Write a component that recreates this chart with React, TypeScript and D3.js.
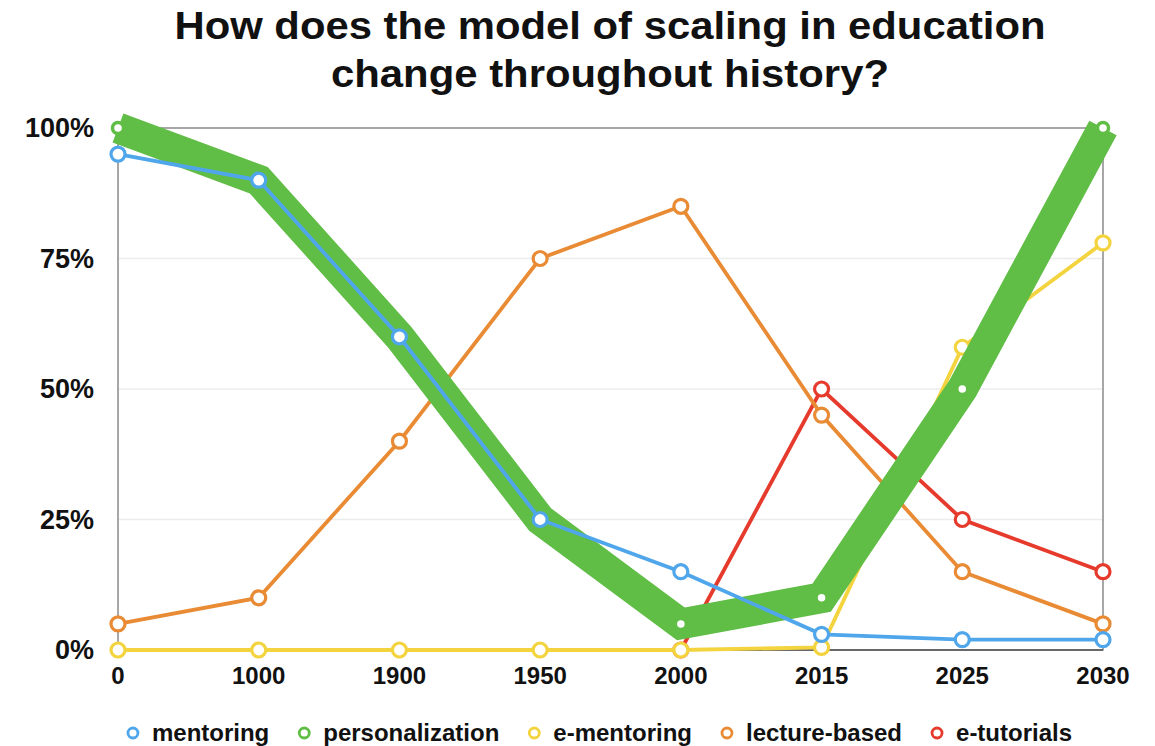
import React, { useEffect, useRef } from "react";
import * as d3 from "d3";

const categories = ["0", "1000", "1900", "1950", "2000", "2015", "2025", "2030"];
const mentoring = [95, 90, 60, 25, 15, 3, 2, 2];
const personalization = [100, 90, 60, 25, 5, 10, 50, 100];
const eMentoring = [0, 0, 0, 0, 0, 0.5, 58, 78];
const lectureBased = [5, 10, 40, 75, 85, 45, 15, 5];
const eTutorials: (number | null)[] = [null, null, null, null, 0, 50, 25, 15];
const yTicks = [0, 25, 50, 75, 100];
const titleLines = ["How does the model of scaling in education", "change throughout history?"];

const seriesNames = ["mentoring", "personalization", "e-mentoring", "lecture-based", "e-tutorials"];
const seriesColors = ["#4fa6ea", "#60bd45", "#f3d33e", "#e98b34", "#e63a2c"];

const W = 1155;
const H = 746;
const FONT = "'Liberation Sans', Arial, Helvetica, sans-serif";

export default function App() {
  const ref = useRef<SVGSVGElement | null>(null);

  useEffect(() => {
    const svg = d3.select(ref.current);
    svg.selectAll("*").remove();

    const left = 118, right = 1103, top = 128, bottom = 650;
    const x = d3.scalePoint<string>().domain(categories).range([left, right]).padding(0);
    const y = d3.scaleLinear().domain([0, 100]).range([bottom, top]);

    // title (slightly wide-set, as in the reference)
    const titleWidths = [871, 558];
    svg.append("g").selectAll("text").data(titleLines).join("text")
      .attr("x", 610).attr("y", (_d, i) => 39 + i * 48)
      .attr("text-anchor", "middle")
      .attr("font-family", FONT).attr("font-weight", "bold").attr("font-size", 39)
      .attr("textLength", (_d, i) => titleWidths[i]).attr("lengthAdjust", "spacingAndGlyphs")
      .attr("fill", "#111").text(d => d);

    // gridlines
    svg.append("g").selectAll("line").data(yTicks.filter(t => t > 0 && t < 100)).join("line")
      .attr("x1", left).attr("x2", right)
      .attr("y1", d => y(d)).attr("y2", d => y(d))
      .attr("stroke", "#ececec").attr("stroke-width", 1.5);

    // frame
    svg.append("rect").attr("x", left).attr("y", top).attr("width", right - left).attr("height", bottom - top)
      .attr("fill", "none").attr("stroke", "#8a8a8a").attr("stroke-width", 1.5);
    svg.append("line").attr("x1", left).attr("x2", right).attr("y1", bottom).attr("y2", bottom)
      .attr("stroke", "#555").attr("stroke-width", 1.5);

    // y tick labels
    svg.append("g").selectAll("text").data(yTicks).join("text")
      .attr("x", 94).attr("y", d => y(d) + 9)
      .attr("text-anchor", "end")
      .attr("font-family", FONT).attr("font-weight", "bold").attr("font-size", 27)
      .attr("fill", "#111").text(d => d + "%");

    // x tick labels
    svg.append("g").selectAll("text").data(categories).join("text")
      .attr("x", d => x(d) as number).attr("y", 684)
      .attr("text-anchor", "middle")
      .attr("font-family", FONT).attr("font-weight", "bold").attr("font-size", 24)
      .attr("fill", "#111").text(d => d);

    const all: (number | null)[][] = [mentoring, personalization, eMentoring, lectureBased, eTutorials];
    const order = [4, 3, 2, 1, 0];
    const lineGen = d3.line<number | null>()
      .defined(d => d !== null)
      .x((_d, i) => x(categories[i]) as number)
      .y(d => y(d as number));

    order.forEach(si => {
      const data = all[si];
      const isGreen = si === 1;
      const g = svg.append("g");
      g.append("path").attr("d", lineGen(data) as string)
        .attr("fill", "none").attr("stroke", seriesColors[si])
        .attr("stroke-width", isGreen ? 31 : 3.8)
        .attr("stroke-linejoin", "miter").attr("stroke-linecap", "butt")
        .attr("stroke-miterlimit", 10);
      g.selectAll("circle").data(data.map((v, i) => ({ v, i })).filter(d => d.v !== null)).join("circle")
        .attr("cx", d => x(categories[d.i]) as number)
        .attr("cy", d => y(d.v as number))
        .attr("r", isGreen ? 5.5 : 7)
        .attr("fill", "#fff").attr("stroke", seriesColors[si]).attr("stroke-width", isGreen ? 3.5 : 3.2);
    });

    // legend
    const lg = svg.append("g");
    const items = lg.selectAll("g").data(seriesNames).join("g");
    items.append("circle").attr("r", 5).attr("cy", 733)
      .attr("fill", "#fff").attr("stroke", (_d, i) => seriesColors[i]).attr("stroke-width", 2.8);
    const texts = items.append("text").attr("y", 741)
      .attr("font-family", FONT).attr("font-weight", "bold").attr("font-size", 24)
      .attr("fill", "#111").text(d => d);
    const widths: number[] = [];
    texts.each(function () { widths.push((this as SVGTextElement).getComputedTextLength()); });
    const circleGap = 24, itemGap = 30;
    let total = 0;
    widths.forEach((w, i) => { total += circleGap + w + (i < widths.length - 1 ? itemGap : 0); });
    let cx = 600 - total / 2 + 5;
    const starts: number[] = [];
    widths.forEach(w => { starts.push(cx); cx += circleGap + w + itemGap; });
    items.select("circle").attr("cx", (_d, i) => starts[i]);
    texts.attr("x", (_d, i) => starts[i] + circleGap - 5);
  }, []);

  return (
    <svg ref={ref} width={W} height={H}
      style={{ position: "absolute", left: 0, top: 0, background: "#fff", display: "block" }} />
  );
}
